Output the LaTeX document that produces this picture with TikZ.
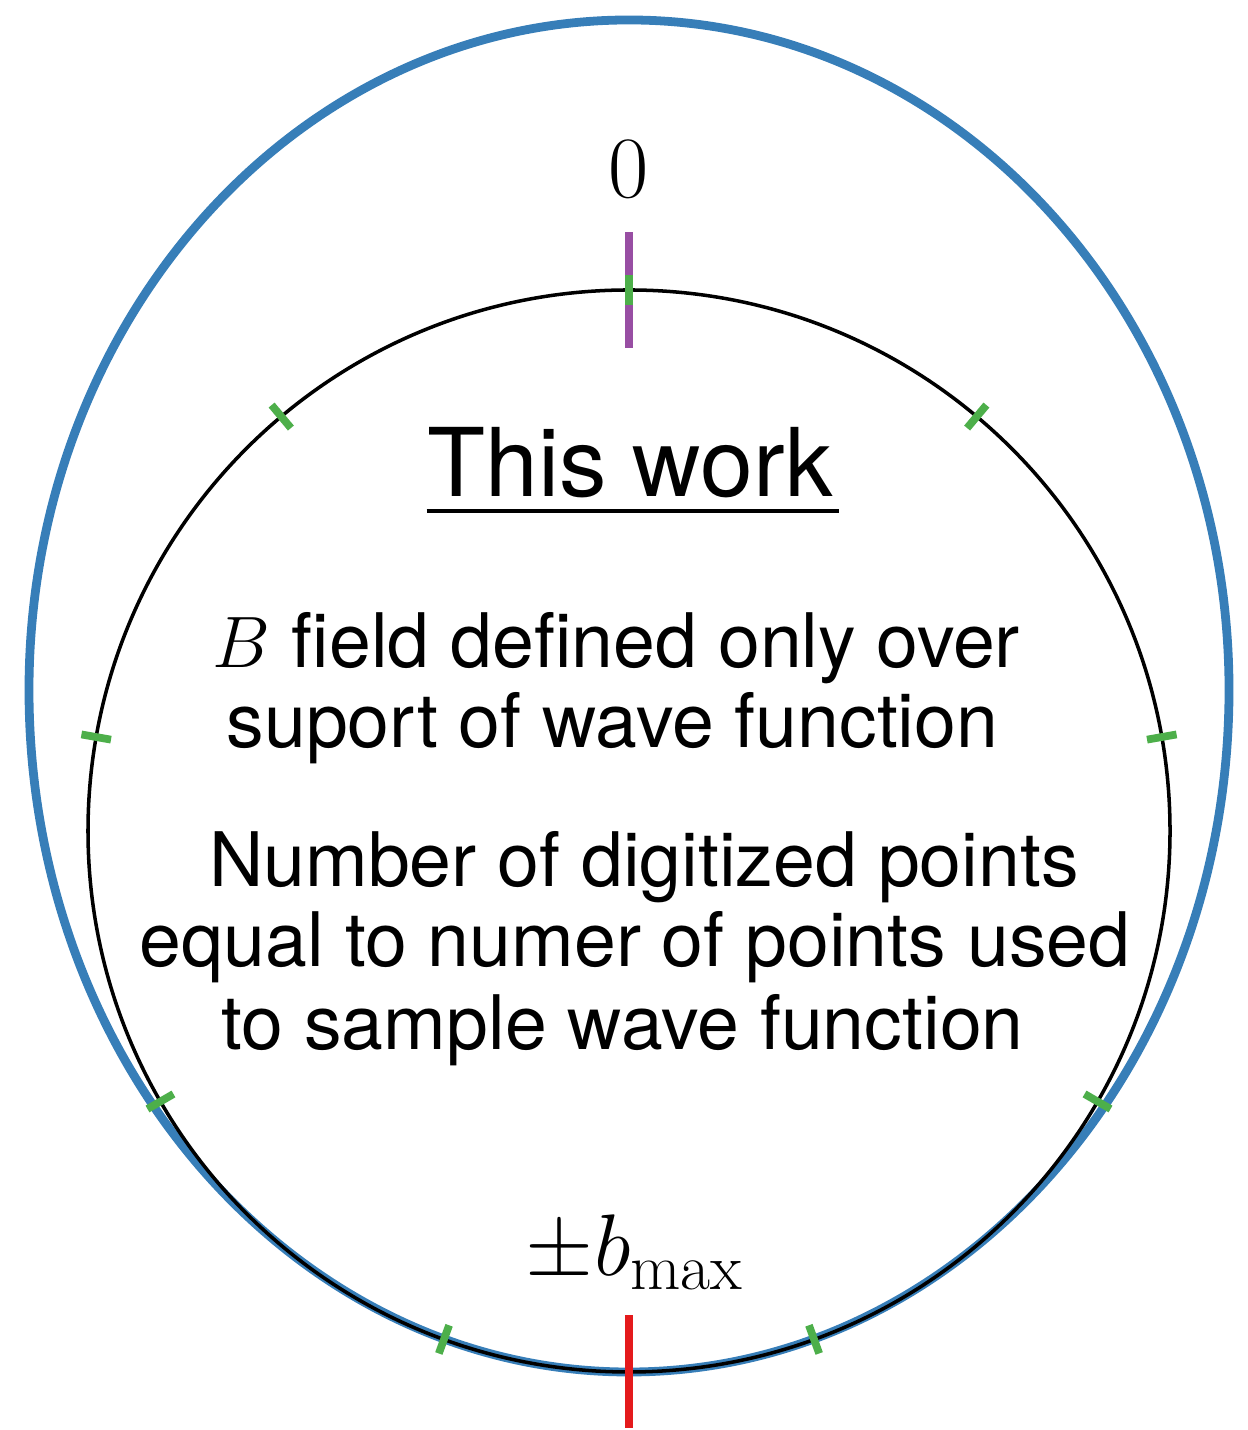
\documentclass[tikz,border=0pt]{standalone}
\usepackage{fontspec}
\newfontfamily\helv{TeX Gyre Heros}
\definecolor{setblue}{HTML}{377EB8}
\definecolor{setgreen}{HTML}{4DAF4A}
\definecolor{setpurple}{HTML}{984EA3}
\definecolor{setred}{HTML}{E41A1C}

\begin{document}
\begin{tikzpicture}[
    tick/.style={line width=2.2pt},
    body/.style={font=\helv\fontsize{21.4}{23}\selectfont,inner sep=0pt,anchor=base},
    lbl/.style={font=\fontsize{26.5}{30}\selectfont,inner sep=0pt,anchor=base}]
  \useasboundingbox (0,0) rectangle (12.47,14.30);
  \coordinate (c) at (6.29,5.99);
  \draw [setblue,line width=2.5pt] (12.29,7.40)
        arc [start angle=0,end angle=180,x radius=6,y radius=6.7]
        arc [start angle=180,end angle=360,x radius=6,y radius=6.82];
  \draw [line width=1pt] (c) circle (5.41);
  \draw [tick,setpurple] (6.29,10.82) -- (6.29,11.98);
  \draw [tick,setred] (6.29,0.02) -- (6.29,1.15);
  \foreach \a in {0,40,...,320}
    \draw [tick,setgreen,shift={(c)}] ({90-\a}:5.26) -- ({90-\a}:5.56);
  \node [lbl] (zero) at (6.29,12.32) {$0$};
  \node [lbl] (bmax) at (6.35,1.54) {$\pm b_{\mathrm{max}}$};
  \node [font=\helv\fontsize{27}{30}\selectfont,inner sep=0pt,anchor=base] (title) at (6.30,9.33) {This work};
  \draw [line width=1.1pt] ([xshift=0cm,yshift=-0.14cm]title.base west) -- ([xshift=0.06cm,yshift=-0.14cm]title.base east);
  \node [body] (fld) at (6.165,7.62) {$B$ field defined only over};
  \node [body] (sup) at (6.125,6.82) {suport of wave function};
  \node [body] (num) at (6.44,5.43) {Number of digitized points};
  \node [body] (eq) at (6.35,4.63) {equal to numer of points used};
  \node [body] (smp) at (6.225,3.80) {to sample wave function};
\end{tikzpicture}
\end{document}
